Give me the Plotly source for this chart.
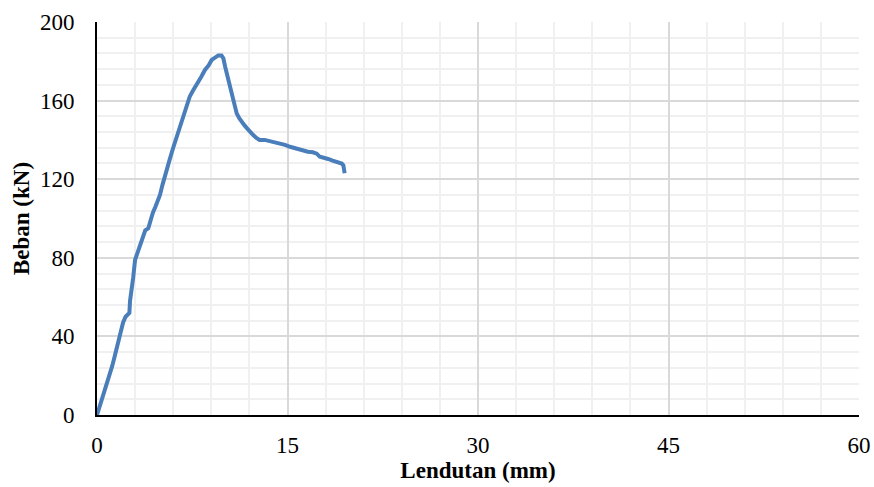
import plotly.graph_objects as go

lendutan = [0.0, 0.24, 0.5, 0.8, 1.0, 1.2, 1.4, 1.65, 1.85, 2.05, 2.25, 2.4, 2.55, 2.6, 2.7, 2.85, 3.0,
            3.2, 3.4, 3.6, 3.8, 4.04, 4.2, 4.4, 4.6, 4.8, 4.96, 5.15, 5.35, 5.55, 5.75, 6.0, 6.2, 6.4,
            6.65, 6.93, 7.1, 7.3, 7.55, 7.85, 8.2, 8.5, 8.8, 9.03, 9.3, 9.55, 9.8, 9.95, 10.1, 10.34,
            10.55, 10.73, 10.9, 11.0, 11.2, 11.4, 11.6, 11.8, 12.05, 12.3, 12.55, 12.8, 13.2, 13.6,
            14.0, 14.4, 14.8, 15.2, 15.7, 16.2, 16.6, 17.0, 17.3, 17.55, 17.9, 18.2, 18.55, 18.9,
            19.1, 19.27, 19.4, 19.45, 19.5]
beban = [0.0, 5.0, 10.0, 15.0, 20.0, 25.0, 30.0, 37.0, 42.0, 47.0, 50.0, 51.0, 52.0, 58.0, 62.0, 70.0, 79.0,
         83.0, 87.5, 90.0, 94.0, 95.0, 99.0, 103.0, 106.0, 109.0, 112.0, 117.0, 122.0, 126.0, 130.6, 136.0, 140.0, 144.0,
         149.0, 154.0, 158.0, 162.0, 165.0, 168.0, 172.0, 175.6, 178.0, 180.7, 182.0, 183.0, 183.0, 181.5, 177.0, 171.0,
         166.0, 162.0, 157.0, 153.5, 151.0, 149.0, 147.5, 146.0, 144.0, 142.5, 141.0, 140.0, 140.0, 139.4,
         139.0, 138.3, 137.5, 136.5, 135.5, 135.0, 134.0, 133.7, 133.0, 131.4, 131.0, 130.3, 129.5, 128.6,
         128.0, 128.0, 127.0, 125.5, 123.0]

x_ticks = [0, 15, 30, 45, 60]
y_ticks = [0, 40, 80, 120, 160, 200]

fig = go.Figure()
fig.add_trace(go.Scatter(x=lendutan, y=beban, mode="lines",
                         line=dict(color="#4a7ebb", width=4), showlegend=False))

font = dict(family="Liberation Serif, Times New Roman, serif", size=23, color="black")
tfont = dict(family="Liberation Serif, Times New Roman, serif", size=23, color="black")

fig.update_layout(
    width=874, height=487,
    margin=dict(l=97, r=15, t=22, b=72, autoexpand=False),
    paper_bgcolor="white", plot_bgcolor="white",
    font=font,
    xaxis=dict(range=[0, 60], tickvals=x_ticks, showgrid=True, gridcolor="#d9d9d9", gridwidth=2,
               minor=dict(dtick=3, tick0=0, showgrid=True, gridcolor="#f0f0f0", gridwidth=2),
               showline=True, linecolor="black", linewidth=2, zeroline=False, automargin=False,
               ticks="", ticklabelstandoff=8, tickfont=font,
               title=dict(text="<b>Lendutan (mm)</b>", font=tfont, standoff=2)),
    yaxis=dict(range=[0, 200], tickvals=y_ticks, showgrid=True, gridcolor="#d9d9d9", gridwidth=2,
               minor=dict(dtick=8, tick0=0, showgrid=True, gridcolor="#f0f0f0", gridwidth=2),
               showline=True, linecolor="black", linewidth=2, zeroline=False, automargin=False,
               ticks="", ticklabelstandoff=16, tickfont=font,
               title=dict(text="<b>Beban (kN)</b>", font=tfont, standoff=4)),
)

fig.write_html("out.html")
